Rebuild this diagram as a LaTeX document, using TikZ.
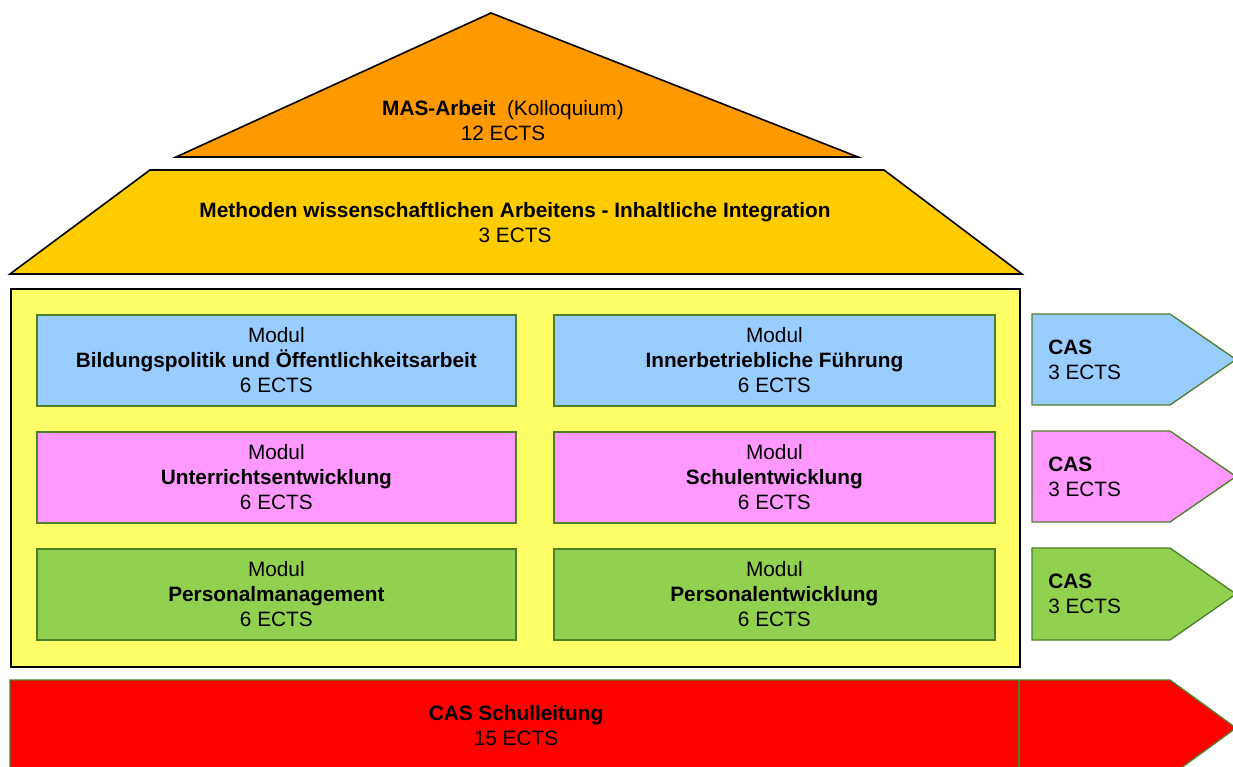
\documentclass[tikz,border=0pt]{standalone}
\usepackage{fontspec}
\setmainfont{Liberation Sans}
\definecolor{cOrange}{HTML}{FF9900}
\definecolor{cGold}{HTML}{FFCC00}
\definecolor{cYellow}{HTML}{FFFF66}
\definecolor{cBlue}{HTML}{99CCFF}
\definecolor{cPink}{HTML}{FF99FF}
\definecolor{cGreen}{HTML}{92D050}
\definecolor{cRed}{HTML}{FF0000}
\definecolor{cEdge}{HTML}{4E7F2A}
\tikzset{
  roof/.style={draw=black, line width=1.2pt, line join=miter},
  txt/.style={align=center, inner sep=0pt, font=\fontsize{15.6}{18.75}\selectfont},
  modbox/.style={draw=cEdge, line width=1.3pt, anchor=north west, minimum height=68.25pt, inner sep=0pt, align=center, font=\fontsize{15.6}{18.75}\selectfont},
  wide/.style={modbox, minimum width=359.25pt},
  narrow/.style={modbox, minimum width=330.75pt},
  casarrow/.style={draw=cEdge, line width=1pt, line join=miter},
  castxt/.style={anchor=west, align=left, inner sep=0pt, font=\fontsize{15.6}{18.75}\selectfont}
}
\begin{document}
\begin{tikzpicture}[x=0.75pt,y=-0.75pt]
\useasboundingbox (0,0) rectangle (1233,767);
\clip (0,0) rectangle (1233,767);
% roof
\draw[roof, fill=cOrange] (176,157) -- (491,13) -- (858,157) -- cycle;
\node[txt] (mas) at (503,121) {\textbf{MAS-Arbeit}\ \ (Kolloquium)\\12 ECTS};
\draw[roof, fill=cGold] (10,274) -- (150,170) -- (884,170) -- (1022,274) -- cycle;
\node[txt] (meth) at (515,223) {\textbf{Methoden wissenschaftlichen Arbeitens - Inhaltliche Integration}\\3 ECTS};
% house body
\node[draw=black, line width=1.5pt, fill=cYellow, anchor=north west, minimum width=756.75pt, minimum height=283.5pt, inner sep=0pt] (house) at (10,288) {};
% modules
\node[wide, fill=cBlue] (m1) at (36,314) {Modul\\\textbf{Bildungspolitik und Öffentlichkeitsarbeit}\\6 ECTS};
\node[narrow, fill=cBlue] (m2) at (553,314) {Modul\\\textbf{Innerbetriebliche Führung}\\6 ECTS};
\node[wide, fill=cPink] (m3) at (36,431) {Modul\\\textbf{Unterrichtsentwicklung}\\6 ECTS};
\node[narrow, fill=cPink] (m4) at (553,431) {Modul\\\textbf{Schulentwicklung}\\6 ECTS};
\node[wide, fill=cGreen] (m5) at (36,548) {Modul\\\textbf{Personalmanagement}\\6 ECTS};
\node[narrow, fill=cGreen] (m6) at (553,548) {Modul\\\textbf{Personalentwicklung}\\6 ECTS};
% CAS arrows
\draw[casarrow, fill=cBlue] (1032,314) -- (1170,314) -- (1236,359.5) -- (1170,405) -- (1032,405) -- cycle;
\node[castxt] (c1) at (1048,360) {\textbf{CAS}\\3 ECTS};
\draw[casarrow, fill=cPink] (1032,431) -- (1170,431) -- (1236,476.5) -- (1170,522) -- (1032,522) -- cycle;
\node[castxt] (c2) at (1048,477) {\textbf{CAS}\\3 ECTS};
\draw[casarrow, fill=cGreen] (1032,548) -- (1170,548) -- (1236,594) -- (1170,640) -- (1032,640) -- cycle;
\node[castxt] (c3) at (1048,594) {\textbf{CAS}\\3 ECTS};
% red bar
\draw[casarrow, fill=cRed] (10,680) -- (1170,680) -- (1236,728) -- (1170,776) -- (10,776) -- cycle;
\draw[cEdge, line width=0.8pt] (1019,680) -- (1019,776);
\node[txt] (cas) at (516,726) {\textbf{CAS Schulleitung}\\15 ECTS};
\end{tikzpicture}
\end{document}
